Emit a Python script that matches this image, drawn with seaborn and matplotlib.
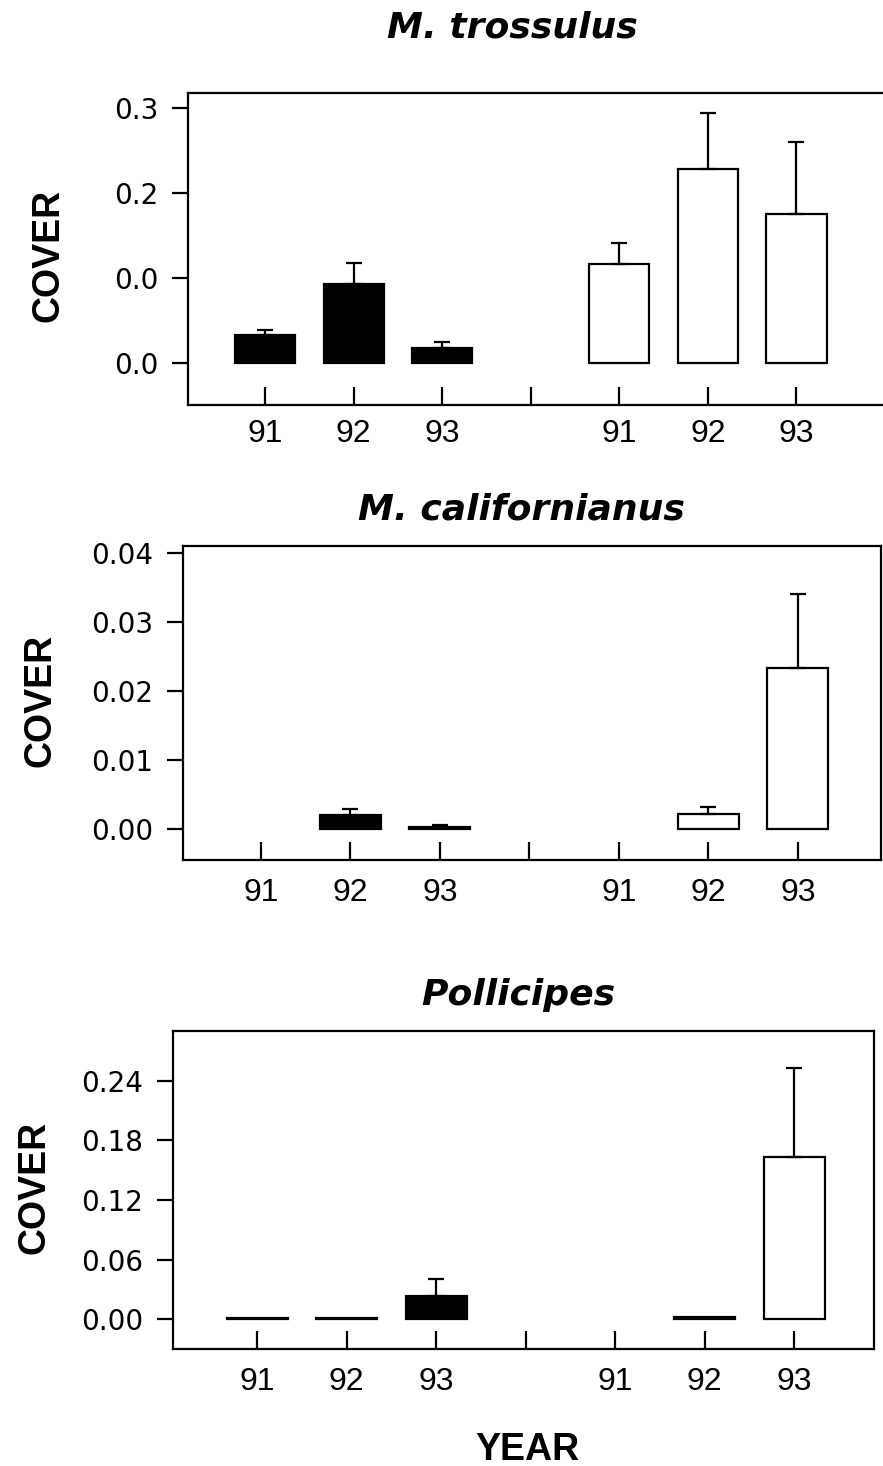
import numpy as np
import pandas as pd
import matplotlib
matplotlib.use("Agg")
import matplotlib.pyplot as plt
import seaborn as sns

# ---------------- data ----------------
order = ["C91", "C92", "C93", "gap", "E91", "E92", "E93"]
tick_labels = ["91", "92", "93", "", "91", "92", "93"]
bar_cats = ["C91", "C92", "C93", "E91", "E92", "E93"]
bar_group = ["solid", "solid", "solid", "open", "open", "open"]

titles = ["M. trossulus", "M. californianus", "Pollicipes"]

trossulus_mean = [0.033, 0.093, 0.018, 0.117, 0.229, 0.176]
trossulus_se = [0.006, 0.025, 0.007, 0.024, 0.065, 0.084]

californianus_mean = [np.nan, 0.0020, 0.0003, np.nan, 0.0021, 0.0233]
californianus_se = [np.nan, 0.0009, 0.0003, np.nan, 0.0011, 0.0108]

pollicipes_mean = [0.001, 0.001, 0.023, np.nan, 0.002, 0.163]
pollicipes_se = [np.nan, np.nan, 0.017, np.nan, np.nan, 0.090]

trossulus_yticks = [0.0, 0.1, 0.2, 0.3]
trossulus_yticklabels = ["0.0", "0.0", "0.2", "0.3"]
californianus_yticks = [0.0, 0.01, 0.02, 0.03, 0.04]
californianus_yticklabels = ["0.00", "0.01", "0.02", "0.03", "0.04"]
pollicipes_yticks = [0.0, 0.06, 0.12, 0.18, 0.24]
pollicipes_yticklabels = ["0.00", "0.06", "0.12", "0.18", "0.24"]

# ---------------- style ----------------
sns.set_style("ticks")
plt.rcParams["font.family"] = ["DejaVu Sans"]
plt.rcParams["axes.linewidth"] = 1.6
plt.rcParams["text.color"] = "black"
plt.rcParams["axes.labelcolor"] = "black"
plt.rcParams["xtick.color"] = "black"
plt.rcParams["ytick.color"] = "black"
plt.rcParams["axes.edgecolor"] = "black"

W, H = 883, 1466
fig = plt.figure(figsize=(W / 100, H / 100), dpi=100)


def rect(left, top, right, bottom):
    return [left / W, 1 - bottom / H, (right - left) / W, (bottom - top) / H]


panels = [
    dict(mean=trossulus_mean, se=trossulus_se, yt=trossulus_yticks, ytl=trossulus_yticklabels,
         rect=rect(188, 93, 885, 405), xlim=(-0.87, 7.0), ylim=(-0.049, 0.318),
         title_xy=(512, 38), cover_xy=(49, 255), xpad=10),
    dict(mean=californianus_mean, se=californianus_se, yt=californianus_yticks, ytl=californianus_yticklabels,
         rect=rect(183, 546, 881, 860), xlim=(-0.87, 6.93), ylim=(-0.0045, 0.041),
         title_xy=(521, 520), cover_xy=(40, 700), xpad=13),
    dict(mean=pollicipes_mean, se=pollicipes_se, yt=pollicipes_yticks, ytl=pollicipes_yticklabels,
         rect=rect(173, 1031, 874, 1349), xlim=(-0.94, 6.89), ylim=(-0.030, 0.290),
         title_xy=(518, 1005), cover_xy=(35, 1187), xpad=13),
]

for title, p in zip(titles, panels):
    ax = fig.add_axes(p["rect"])
    df = pd.DataFrame({"cat": bar_cats, "group": bar_group,
                       "cover": p["mean"], "se": p["se"]})
    dbar = df.dropna(subset=["cover"])
    sns.barplot(data=dbar, x="cat", y="cover", hue="group", order=order,
                hue_order=["solid", "open"],
                palette={"solid": "black", "open": "white"},
                dodge=False, width=0.68, saturation=1, edgecolor="black",
                linewidth=1.6, errorbar=None, legend=False, ax=ax)
    derr = df.dropna(subset=["cover", "se"])
    xs = [order.index(c) for c in derr["cat"]]
    ax.errorbar(xs, derr["cover"].values,
                yerr=[np.zeros(len(derr)), derr["se"].values],
                fmt="none", ecolor="black", elinewidth=1.6, capsize=6, capthick=1.6,
                zorder=1)
    ax.set_xlim(*p["xlim"])
    ax.set_ylim(*p["ylim"])
    ax.set_xticks(range(len(order)))
    ax.set_xticklabels(tick_labels, fontfamily="Liberation Sans", fontsize=23, color="black")
    ax.set_yticks(p["yt"])
    ax.set_yticklabels(p["ytl"], fontsize=20, color="black")
    ax.tick_params(axis="x", direction="in", length=13, width=1.6, pad=p["xpad"], colors="black")
    ax.tick_params(axis="y", direction="out", length=11.5, width=1.6, pad=10, colors="black")
    ax.set_xlabel("")
    ax.set_ylabel("")
    for s in ax.spines.values():
        s.set_linewidth(1.6)
        s.set_color("black")

    tx, ty = p["title_xy"]
    fig.text(tx / W, 1 - ty / H, title, ha="center", va="baseline", color="black",
             fontfamily="DejaVu Sans", fontweight="bold", fontstyle="italic", fontsize=26)
    cx, cy = p["cover_xy"]
    fig.text(cx / W, 1 - cy / H, "COVER", rotation=90, ha="center", va="center", color="black",
             fontfamily="Liberation Sans", fontweight="bold", fontsize=27)

fig.text(527 / W, 1 - 1460 / H, "YEAR", ha="center", va="baseline", color="black",
         fontfamily="Liberation Sans", fontweight="bold", fontsize=27)

fig.savefig("out.png", dpi=100, facecolor="white")
